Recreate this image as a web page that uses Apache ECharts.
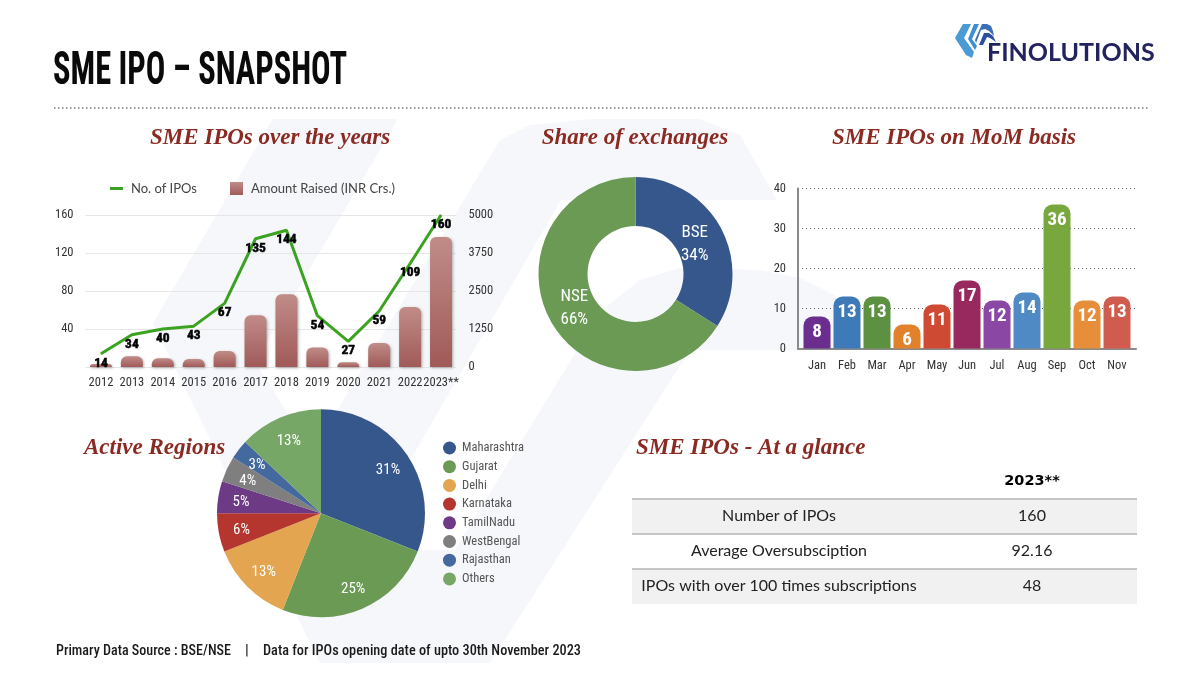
<!DOCTYPE html>
<html><head><meta charset="utf-8">
<style>html,body{margin:0;padding:0;background:#fff}#c{width:1200px;height:675px}</style>
<script src="https://cdn.jsdelivr.net/npm/echarts@6/dist/echarts.min.js"></script>
</head><body><div id="c"></div>
<script>
const years=['2012','2013','2014','2015','2016','2017','2018','2019','2020','2021','2022','2023**'];
const ipoCounts=[14,34,40,43,67,135,144,54,27,59,109,160];
const amountRaised=[100,350,290,260,530,1700,2390,640,160,790,1970,4280];
const exchanges=['BSE','NSE'];
const exchangeShare=[34,66];
const exchangeColors=['#36578c','#6a9a54'];
const months=['Jan','Feb','Mar','Apr','May','Jun','Jul','Aug','Sep','Oct','Nov'];
const monthIpos=[8,13,13,6,11,17,12,14,36,12,13];
const monthColors=['#6b2d8e','#3f7ab8','#5b9140','#e2812b','#cf4a33','#97295f','#8a47a3','#4f8ac4','#78a83d','#e68e3a','#cf5c4e'];
const regions=['Maharashtra','Gujarat','Delhi','Karnataka','TamilNadu','WestBengal','Rajasthan','Others'];
const regionShare=[31,25,13,6,5,4,3,13];
const regionColors=['#36578c','#6a9a54','#e3a54f','#b5352f','#6d3a86','#7f7f7f','#44699f','#76a766'];
const tableHeader='2023**';
const tableRows=['Number of IPOs','Average Oversubsciption','IPOs with over 100 times subscriptions'];
const tableValues=['160','92.16','48'];

const NARROW='"Roboto Condensed","Liberation Sans",sans-serif';
const SERIF='"Liberation Serif",serif';
const RED='#8a2a22';
const WM='#f5f7fb';

function section(t,x,y,align){return {type:'text',z:5,style:{text:t,x:x,y:y,align:align||'center',verticalAlign:'middle',fill:RED,font:'italic bold 23px '+SERIF}};}
function poly(points,fill,z){return {type:'polygon',z:z,shape:{points:points},style:{fill:fill}};}
function fitText(t,font,targetW,x,y,fill){
 const c=document.createElement('canvas').getContext('2d');c.font=font;
 return {type:'text',z:5,x:x,y:y,scaleX:targetW/c.measureText(t).width,style:{text:t,x:0,y:0,verticalAlign:'middle',fill:fill,font:font}};
}

const graphics=[
 // watermark
 poly([[273,119],[398,119],[255,362],[312,452],[500,140],[530,125],[590,119],[700,119],[740,135],[777,200],[561,200],[358,550],[455,550],[573,357],[600,312],[640,280],[680,268],[760,270],[800,278],[835,295],[860,350],[690,350],[490,663],[320,663],[153,323]],WM,-5),
 // title and rule
 fitText('SME IPO – SNAPSHOT','bold 46px "Roboto Condensed"',294,53,72.5,'#0a0a0a'),
 {type:'line',z:5,shape:{x1:54,y1:108,x2:1148,y2:108},style:{stroke:'#777',lineWidth:1.5,lineDash:[1.5,2.5]}},
 // logo
 poly([[955,38],[963,24],[971,24],[964,38],[974,52],[972,58],[966,55]],'#4a9ad6',5),
 poly([[974,24],[979,24],[972,39],[977,46],[975,50],[968,39]],'#3f8ed2',5),
 poly([[982,24],[987,24],[991,26],[993,31],[994,36],[989,31],[985,29],[981,30],[976,43],[975,40]],'#3a6fb8',5),
 poly([[979,45],[984,33],[989,33],[993,36],[996,42],[990,38],[987,37],[983,45]],'#2b4f9e',5),
 {type:'text',z:5,style:{text:'FINOLUTIONS',x:987,y:53,verticalAlign:'middle',fill:'#23235f',font:'bold 25px "Lato",sans-serif'}},
 // section titles
 section('SME IPOs over the years',270,138),
 section('Share of exchanges',635,138),
 section('SME IPOs on MoM basis',954,138),
 section('Active Regions',84,448,'left'),
 section('SME IPOs - At a glance',636,448,'left'),
 // table
 {type:'rect',z:1,shape:{x:632,y:499,width:505,height:35},style:{fill:'#f1f1f1'}},
 {type:'rect',z:1,shape:{x:632,y:569,width:505,height:35},style:{fill:'#f1f1f1'}},
 {type:'line',z:2,shape:{x1:632,y1:499,x2:1137,y2:499},style:{stroke:'#b5b5b5',lineWidth:1.5}},
 {type:'line',z:2,shape:{x1:632,y1:534,x2:1137,y2:534},style:{stroke:'#b5b5b5',lineWidth:1.5}},
 {type:'line',z:2,shape:{x1:632,y1:569,x2:1137,y2:569},style:{stroke:'#b5b5b5',lineWidth:1.5}},
 {type:'text',z:5,style:{text:tableHeader,x:1032,y:481,align:'center',verticalAlign:'middle',fill:'#000',font:'bold 14.5px "DejaVu Sans",sans-serif'}},
 // footer
 fitText('Primary Data Source : BSE/NSE','500 15px "Roboto Condensed"',175,56,651,'#1a1a1a'),
 {type:'text',z:5,style:{text:'|',x:245,y:651,verticalAlign:'middle',fill:'#1a1a1a',font:'500 15px "Roboto Condensed"'}},
 fitText('Data for IPOs opening date of upto 30th November 2023','500 15px "Roboto Condensed"',318,263,651,'#1a1a1a')
];
tableRows.forEach((t,i)=>{
 graphics.push({type:'text',z:5,style:{text:t,x:779,y:516+35*i,align:'center',verticalAlign:'middle',fill:'#222',font:'16px "Lato",sans-serif'}});
 graphics.push({type:'text',z:5,style:{text:tableValues[i],x:1032,y:516+35*i,align:'center',verticalAlign:'middle',fill:'#222',font:'16px "Lato",sans-serif'}});
});

const axisTxt={fontFamily:NARROW,fontSize:12.5,color:'#333'};
const barGrad={type:'linear',x:0,y:0,x2:0,y2:1,colorStops:[{offset:0,color:'#c08c88'},{offset:1,color:'#a05a58'}]};
const donutOffsets=[[-7,7],[5,-2]];

const option={
 animation:false,
 backgroundColor:'#fff',
 graphic:{elements:graphics},
 legend:[
  {data:[{name:'No. of IPOs',icon:'path://M0 0H13V3H0Z'},{name:'Amount Raised (INR Crs.)',icon:'rect'}],left:105,top:177,itemWidth:13,itemHeight:13,itemGap:33,
   textStyle:{fontFamily:'Lato,sans-serif',fontSize:13,color:'#444',padding:[0,0,0,3]},selectedMode:false},
  {data:regions,orient:'vertical',left:438,top:436.5,itemWidth:13,itemHeight:13,itemGap:5.7,icon:'circle',
   textStyle:{fontFamily:NARROW,fontSize:12.5,lineHeight:13,color:'#555',padding:[0,0,0,1]},selectedMode:false}
 ],
 grid:[
  {left:85.5,top:215,width:371,height:152},
  {left:802,top:188.5,width:330,height:160},
  {left:798,top:188.5,width:338,height:160}
 ],
 xAxis:[
  {type:'category',gridIndex:0,data:years,axisLine:{show:false},axisTick:{show:false},axisLabel:{...axisTxt,margin:9,interval:0,hideOverlap:false}},
  {type:'category',gridIndex:1,data:months,axisLine:{show:false},axisTick:{show:false},axisLabel:{...axisTxt,margin:11,interval:0}},
  {type:'category',gridIndex:2,data:[],axisLine:{show:true,lineStyle:{color:'#8a8a8a',width:2}},axisTick:{show:false},axisLabel:{show:false}}
 ],
 yAxis:[
  {type:'value',gridIndex:0,min:0,max:160,interval:40,axisLine:{show:false},axisTick:{show:false},
   axisLabel:{...axisTxt,margin:12,formatter:v=>v===0?'':String(v)},splitLine:{lineStyle:{color:'#e6e6e6'}}},
  {type:'value',gridIndex:0,position:'right',min:0,max:5000,interval:1250,axisLine:{show:false},axisTick:{show:false},
   axisLabel:{...axisTxt,margin:12,formatter:v=>String(v)},splitLine:{show:false}},
  {type:'value',gridIndex:1,min:0,max:40,interval:10,show:false},
  {type:'value',gridIndex:2,min:0,max:40,interval:10,axisLine:{show:true,lineStyle:{color:'#8a8a8a',width:2}},axisTick:{show:false},
   axisLabel:{...axisTxt,margin:12},splitLine:{lineStyle:{color:'#666',type:[1,3],width:1}}}
 ],
 series:[
  {type:'bar',name:'Amount Raised (INR Crs.)',xAxisIndex:0,yAxisIndex:1,data:amountRaised,barWidth:22,z:2,
   itemStyle:{color:barGrad,borderRadius:[6,6,0,0],shadowBlur:3,shadowColor:'rgba(0,0,0,.3)',shadowOffsetX:1,shadowOffsetY:1}},
  {type:'line',name:'No. of IPOs',xAxisIndex:0,yAxisIndex:0,data:ipoCounts,symbol:'circle',symbolSize:1,z:3,
   lineStyle:{color:'#3ba321',width:3},itemStyle:{color:'#3ba321'},
   label:{show:true,position:'bottom',distance:2,fontFamily:NARROW,fontWeight:'bold',fontSize:13.5,color:'#000',textBorderColor:'#000',textBorderWidth:0.5}},
  {type:'bar',xAxisIndex:1,yAxisIndex:2,barWidth:27,z:3,
   data:monthIpos.map((v,i)=>({value:v,itemStyle:{color:monthColors[i]}})),
   itemStyle:{borderRadius:[9,9,0,0]},
   label:{show:true,position:'insideTop',distance:6,fontFamily:NARROW,fontWeight:'bold',fontSize:19,color:'#fff'}},
  {type:'pie',center:[635.5,274],radius:[48,97],startAngle:90,clockwise:true,silent:true,
   data:exchanges.map((n,i)=>({name:n,value:exchangeShare[i],itemStyle:{color:exchangeColors[i]},label:{offset:donutOffsets[i]}})),
   label:{show:true,position:'inside',formatter:p=>p.name+'\n'+p.value+'%',fontFamily:NARROW,fontSize:17,lineHeight:23,color:'#fff'},labelLine:{show:false}},
  {type:'pie',center:[321,513.3],radius:[0,104],startAngle:90,silent:true,
   data:regions.map((n,i)=>({name:n,value:regionShare[i],itemStyle:{color:regionColors[i]}})),
   label:{show:false},labelLine:{show:false}},
  {type:'pie',center:[321,513.3],radius:[52,104],startAngle:90,silent:true,z:4,legendHoverLink:false,
   data:regions.map((n,i)=>({name:n,value:regionShare[i],itemStyle:{color:'transparent'}})),
   label:{show:true,position:'inside',offset:[0,2],formatter:p=>p.value+'%',fontFamily:NARROW,fontSize:15,color:'#fff'},labelLine:{show:false}}
 ]
};
echarts.init(document.getElementById('c'),null,{renderer:'canvas'}).setOption(option);
</script></body></html>
